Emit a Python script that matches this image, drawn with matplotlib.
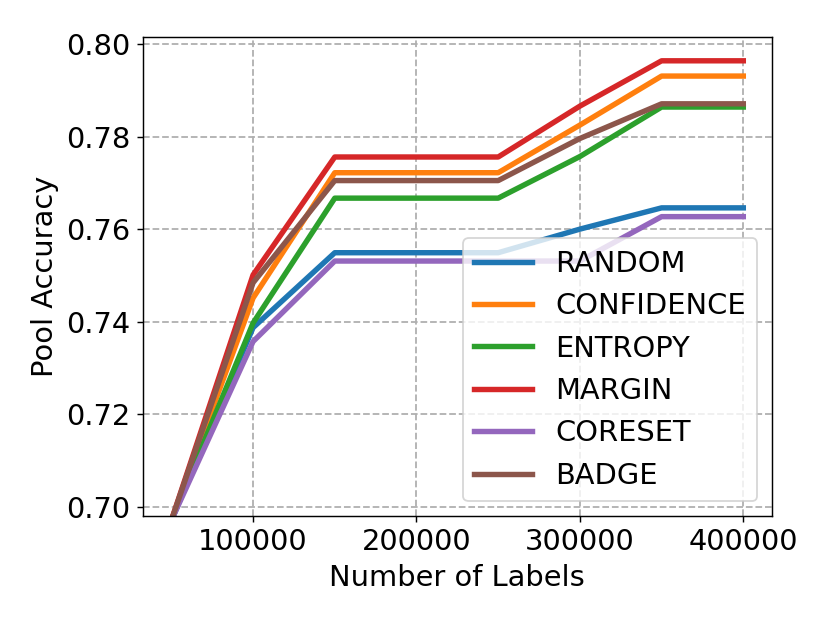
import matplotlib
matplotlib.use('Agg')
import matplotlib.pyplot as plt

# number of labels (x axis)
labels = [50000, 100000, 150000, 200000, 250000, 300000, 350000, 400000]

# pool accuracy for each strategy
random_acc = [0.697, 0.7387, 0.7549, 0.7549, 0.7549, 0.7600, 0.7646, 0.7646]
confidence_acc = [0.697, 0.7451, 0.7722, 0.7722, 0.7722, 0.7825, 0.7931, 0.7931]
entropy_acc = [0.697, 0.7397, 0.7667, 0.7667, 0.7667, 0.7757, 0.7864, 0.7864]
margin_acc = [0.697, 0.7501, 0.7756, 0.7756, 0.7756, 0.7866, 0.7964, 0.7964]
coreset_acc = [0.697, 0.7357, 0.7531, 0.7531, 0.7531, 0.7531, 0.7627, 0.7627]
badge_acc = [0.697, 0.7484, 0.7705, 0.7705, 0.7705, 0.7796, 0.7871, 0.7871]

names = ['RANDOM', 'CONFIDENCE', 'ENTROPY', 'MARGIN', 'CORESET', 'BADGE']
series = [random_acc, confidence_acc, entropy_acc, margin_acc, coreset_acc, badge_acc]

plt.rcParams['font.size'] = 16

fig = plt.figure(figsize=(830 / 130, 623 / 130), dpi=130)
ax = fig.add_axes([0.172, 0.172, 0.758, 0.769])

for name, acc in zip(names, series):
    ax.plot(labels, acc, label=name, linewidth=3)

ax.set_ylim(0.698, 0.8016)
ax.set_yticks([0.70, 0.72, 0.74, 0.76, 0.78, 0.80])
ax.set_xticks([100000, 200000, 300000, 400000])
ax.set_xlabel('Number of Labels')
ax.set_ylabel('Pool Accuracy')
ax.grid(True, linestyle='--', linewidth=1, color='#b0b0b0')
ax.legend(loc='lower right')

fig.savefig('out.png', dpi=130)
